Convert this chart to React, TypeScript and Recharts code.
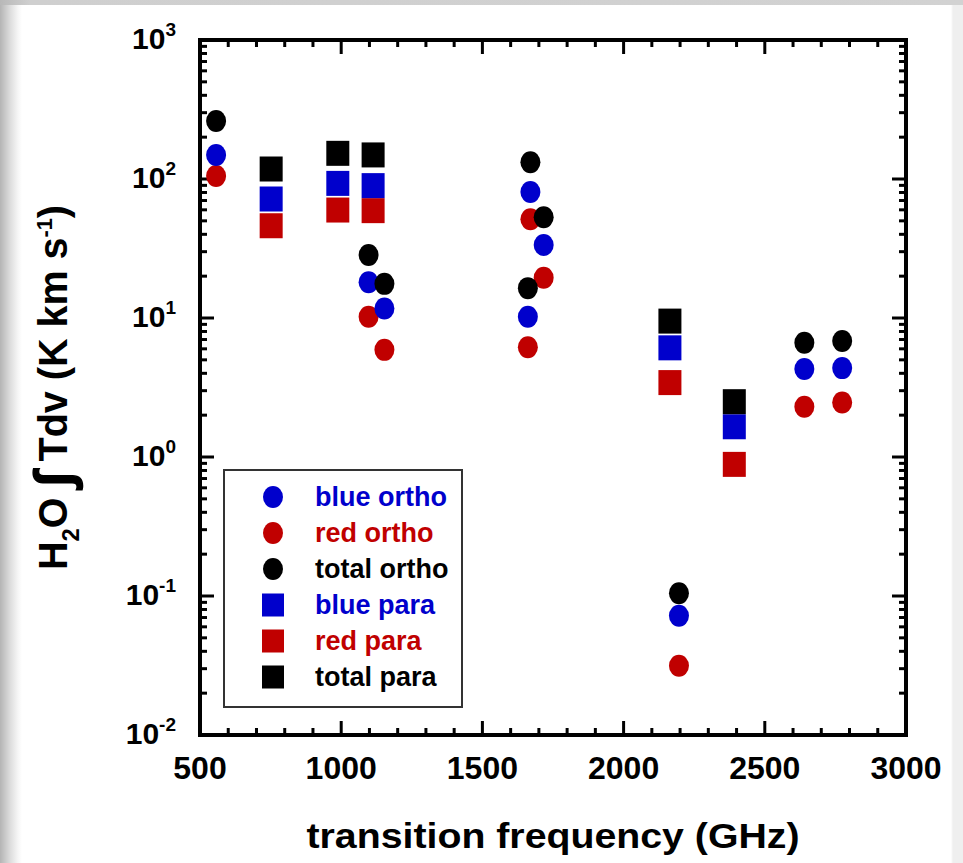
import { ScatterChart, Scatter, XAxis, YAxis, Legend } from 'recharts';

// frequencies (GHz) of the observed lines
const orthoFreq = [557, 1097, 1153, 1661, 1670, 1717, 2196, 2640, 2774];
const paraFreq = [752, 988, 1113, 2164, 2392];

// integrated intensities (K km/s)
const blueOrtho = [149, 18.1, 11.7, 10.2, 80.5, 33.5, 0.072, 4.29, 4.36];
const redOrtho = [105, 10.2, 5.9, 6.15, 51.3, 19.5, 0.0315, 2.3, 2.47];
const totalOrtho = [261, 28.4, 17.6, 16.4, 132, 53, 0.1045, 6.64, 6.84];

const bluePara = [71.8, 93, 89.6, 6.1, 1.65];
const redPara = [46.1, 59.8, 59.2, 3.43, 0.885];
const totalPara = [118, 153, 149, 9.5, 2.5];

const xTicks = [500, 1000, 1500, 2000, 2500, 3000];
const xMinorTicks = [
  600, 700, 800, 900, 1100, 1200, 1300, 1400, 1600, 1700, 1800, 1900,
  2100, 2200, 2300, 2400, 2600, 2700, 2800, 2900,
];
const yTicks = [0.01, 0.1, 1, 10, 100, 1000];
const yExponents = ['-2', '-1', '0', '1', '2', '3'];
const yMinorTicks: number[] = [];
for (let d = -2; d < 3; d++) {
  for (let m = 2; m <= 9; m++) yMinorTicks.push(m * Math.pow(10, d));
}

const BLUE = '#0000cc';
const RED = '#c00000';
const BLACK = '#000000';
const FONT = '"Liberation Sans", Arial, Helvetica, sans-serif';

const toPoints = (freq: number[], vals: number[]) =>
  freq.map((f, i) => ({ f, v: vals[i] }));

const legendItems = [
  { name: 'blue ortho', color: BLUE, kind: 'circle' },
  { name: 'red ortho', color: RED, kind: 'circle' },
  { name: 'total ortho', color: BLACK, kind: 'circle' },
  { name: 'blue para', color: BLUE, kind: 'square' },
  { name: 'red para', color: RED, kind: 'square' },
  { name: 'total para', color: BLACK, kind: 'square' },
];

const circleShape = (color: string) => (p: any) =>
  <ellipse cx={p.cx} cy={p.cy} rx={10} ry={11} fill={color} />;

const squareShape = (color: string) => (p: any) =>
  <rect x={p.cx - 11.5} y={p.cy - 12.5} width={23} height={25} fill={color} />;

const XTick = ({ x, y, payload }: any) => (
  <text x={x} y={y + 44} textAnchor="middle" fontSize={32} fontWeight="bold" fontFamily={FONT} fill="#000">
    {payload.value}
  </text>
);

const YTick = ({ x, y, payload }: any) => {
  const i = yTicks.indexOf(payload.value);
  return (
    <text x={x - 24} y={y + 9} textAnchor="end" fontSize={30} fontWeight="bold" fontFamily={FONT} fill="#000">
      10
      <tspan dy={-13} fontSize={19}>{yExponents[i]}</tspan>
    </text>
  );
};

const NoTick = () => <g />;

const XLabel = ({ viewBox }: any) => (
  <text
    x={viewBox.x + viewBox.width / 2}
    y={viewBox.y + 113}
    textAnchor="middle"
    fontSize={35}
    fontWeight="bold"
    fontFamily={FONT}
    textLength={493}
    lengthAdjust="spacingAndGlyphs"
    fill="#000"
  >
    transition frequency (GHz)
  </text>
);

const YLabel = ({ viewBox }: any) => {
  const x = viewBox.x + viewBox.width - 133;
  const y = viewBox.y + viewBox.height / 2;
  return (
    <text
      x={x}
      y={y}
      transform={`rotate(-90, ${x}, ${y})`}
      textAnchor="middle"
      fontSize={40}
      fontWeight="bold"
      fontFamily={FONT}
      textLength={365}
      lengthAdjust="spacingAndGlyphs"
      fill="#000"
    >
      H<tspan dy={12} fontSize={24}>2</tspan>
      <tspan dy={-12}>O </tspan>
      <tspan fontSize={52} dy={4} stroke="#000" strokeWidth={1.5}>∫</tspan>
      <tspan dy={-4}> Tdv (K km s</tspan>
      <tspan dy={-15} fontSize={22}>-1</tspan>
      <tspan dy={15}>)</tspan>
    </text>
  );
};

const LegendBox = () => (
  <svg width={240} height={239}>
    <rect x={1} y={1} width={238} height={237} fill="#fff" stroke="#333" strokeWidth={2} />
    {legendItems.map((it, i) => {
      const cy = 28 + i * 36;
      return (
        <g key={it.name}>
          {it.kind === 'circle' ? (
            <ellipse cx={50} cy={cy} rx={10} ry={11} fill={it.color} />
          ) : (
            <rect x={39} y={cy - 11.5} width={22} height={23} fill={it.color} />
          )}
          <text x={92} y={cy + 9} fontSize={27} fontWeight="bold" fontFamily={FONT} fill={it.color}>
            {it.name}
          </text>
        </g>
      );
    })}
  </svg>
);

const axisLine = { stroke: '#000', strokeWidth: 4, strokeLinecap: 'square' as const };
const tickLine = { stroke: '#000', strokeWidth: 3 };

export default function App() {
  return (
    <div
      style={{
        position: 'absolute',
        left: 0,
        top: 0,
        width: 963,
        height: 863,
        background:
          'linear-gradient(to right, #b4b4b4 0px, #dcdcdc 10px, #f6f6f6 18px, #ffffff 22px, #ffffff 951px, #efefef 953px)',
      }}
    >
      <div
        style={{
          position: 'absolute',
          left: 0,
          top: 0,
          width: 963,
          height: 5,
          background: 'linear-gradient(to right, #b8b8b8, #cfcfcf 30px, #d2d2d2)',
        }}
      />
      <ScatterChart width={963} height={863} margin={{ top: 38, right: 55, bottom: 126, left: 198 }}>
        <XAxis xAxisId="b" type="number" dataKey="f" domain={[500, 3000]} allowDataOverflow
          ticks={xTicks} interval={0} height={1} axisLine={axisLine} tickLine={tickLine}
          tickSize={-14} tickMargin={14} tick={XTick} label={{ content: XLabel }} />
        <XAxis xAxisId="bm" type="number" dataKey="f" domain={[500, 3000]} allowDataOverflow
          ticks={xMinorTicks} interval={0} height={1} axisLine={false} tickLine={tickLine}
          tickSize={-8} tick={NoTick} />
        <XAxis xAxisId="t" orientation="top" type="number" dataKey="f" domain={[500, 3000]} allowDataOverflow
          ticks={xTicks} interval={0} height={1} axisLine={axisLine} tickLine={tickLine}
          tickSize={-14} tick={NoTick} />
        <XAxis xAxisId="tm" orientation="top" type="number" dataKey="f" domain={[500, 3000]} allowDataOverflow
          ticks={xMinorTicks} interval={0} height={1} axisLine={false} tickLine={tickLine}
          tickSize={-8} tick={NoTick} />

        <YAxis yAxisId="l" type="number" dataKey="v" scale="log" domain={[0.01, 1000]} allowDataOverflow
          ticks={yTicks} interval={0} width={1} axisLine={axisLine} tickLine={tickLine}
          tickSize={-14} tickMargin={14} tick={YTick} label={{ content: YLabel }} />
        <YAxis yAxisId="lm" type="number" dataKey="v" scale="log" domain={[0.01, 1000]} allowDataOverflow
          ticks={yMinorTicks} interval={0} width={1} axisLine={false} tickLine={tickLine}
          tickSize={-8} tick={NoTick} />
        <YAxis yAxisId="r" orientation="right" type="number" dataKey="v" scale="log" domain={[0.01, 1000]} allowDataOverflow
          ticks={yTicks} interval={0} width={1} axisLine={axisLine} tickLine={tickLine}
          tickSize={-14} tick={NoTick} />
        <YAxis yAxisId="rm" orientation="right" type="number" dataKey="v" scale="log" domain={[0.01, 1000]} allowDataOverflow
          ticks={yMinorTicks} interval={0} width={1} axisLine={false} tickLine={tickLine}
          tickSize={-8} tick={NoTick} />

        <Scatter name="red ortho" data={toPoints(orthoFreq, redOrtho)} xAxisId="b" yAxisId="l"
          shape={circleShape(RED)} isAnimationActive={false} />
        <Scatter name="blue ortho" data={toPoints(orthoFreq, blueOrtho)} xAxisId="b" yAxisId="l"
          shape={circleShape(BLUE)} isAnimationActive={false} />
        <Scatter name="total ortho" data={toPoints(orthoFreq, totalOrtho)} xAxisId="b" yAxisId="l"
          shape={circleShape(BLACK)} isAnimationActive={false} />
        <Scatter name="red para" data={toPoints(paraFreq, redPara)} xAxisId="b" yAxisId="l"
          shape={squareShape(RED)} isAnimationActive={false} />
        <Scatter name="blue para" data={toPoints(paraFreq, bluePara)} xAxisId="b" yAxisId="l"
          shape={squareShape(BLUE)} isAnimationActive={false} />
        <Scatter name="total para" data={toPoints(paraFreq, totalPara)} xAxisId="b" yAxisId="l"
          shape={squareShape(BLACK)} isAnimationActive={false} />

        <Legend layout="vertical" align="center" verticalAlign="middle" content={LegendBox}
          wrapperStyle={{ left: 223, top: 469, width: 240, height: 239 }} />
      </ScatterChart>
    </div>
  );
}
